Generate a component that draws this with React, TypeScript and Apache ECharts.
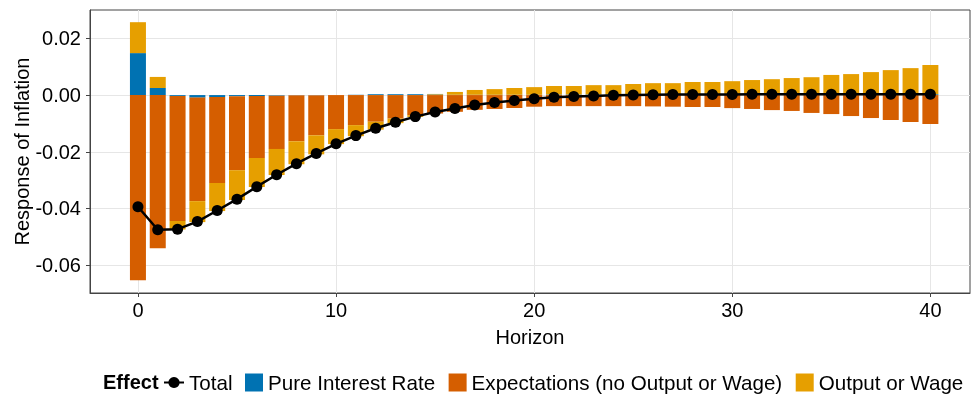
import React, { useEffect, useRef } from 'react';
import * as echarts from 'echarts';

const horizons = [0, 1, 2, 3, 4, 5, 6, 7, 8, 9, 10, 11, 12, 13, 14, 15, 16, 17, 18, 19, 20,
  21, 22, 23, 24, 25, 26, 27, 28, 29, 30, 31, 32, 33, 34, 35, 36, 37, 38, 39, 40];

const pureInterestRate = [0.0148, 0.0025, -0.0003, -0.0009, -0.0007, -0.0004, -0.0003, -0.0002, -0.0001, -0.0001,
  0.0000, 0.0001, 0.0003, 0.0003, 0.0003, 0.0002, 0.0001, 0.0001, 0.0001, 0.0001,
  0.0001, 0.0002, 0.0002, 0.0002, 0.0002, 0.0002, 0.0002, 0.0002, 0.0002, 0.0002,
  0.0002, 0.0002, 0.0002, 0.0002, 0.0002, 0.0002, 0.0002, 0.0002, 0.0003, 0.0003, 0.0003];

const expectations = [-0.0653, -0.0540, -0.0441, -0.0365, -0.0303, -0.0261, -0.0219, -0.0188, -0.0162, -0.0141,
  -0.0120, -0.0106, -0.0094, -0.0083, -0.0071, -0.0065, -0.0059, -0.0052, -0.0049, -0.0046,
  -0.0041, -0.0039, -0.0039, -0.0039, -0.0039, -0.0039, -0.0040, -0.0041, -0.0042, -0.0042,
  -0.0046, -0.0049, -0.0053, -0.0056, -0.0063, -0.0067, -0.0074, -0.0081, -0.0088, -0.0095, -0.0102];

const outputOrWage = [0.0109, 0.0039, -0.0030, -0.0074, -0.0099, -0.0105, -0.0102, -0.0092, -0.0081, -0.0067,
  -0.0053, -0.0039, -0.0028, -0.0016, -0.0006, 0.0002, 0.0010, 0.0017, 0.0020, 0.0024,
  0.0027, 0.0030, 0.0030, 0.0033, 0.0033, 0.0037, 0.0040, 0.0040, 0.0044, 0.0044,
  0.0047, 0.0051, 0.0054, 0.0058, 0.0061, 0.0069, 0.0072, 0.0079, 0.0085, 0.0092, 0.0103];

const total = [-0.0394, -0.0475, -0.0473, -0.0446, -0.0407, -0.0367, -0.0323, -0.0281, -0.0242, -0.0206,
  -0.0172, -0.0143, -0.0117, -0.0096, -0.0076, -0.0060, -0.0047, -0.0035, -0.0026, -0.0019,
  -0.0013, -0.0008, -0.0005, -0.0003, -0.0001, 0.0000, 0.0001, 0.0002, 0.0002, 0.0002,
  0.0002, 0.0003, 0.0003, 0.0003, 0.0003, 0.0003, 0.0003, 0.0003, 0.0003, 0.0003, 0.0003];

const xTicks = [0, 10, 20, 30, 40];
const yTicks = [-0.06, -0.04, -0.02, 0, 0.02];

const FONT = 'Liberation Sans';

export default function App() {
  const ref = useRef<HTMLDivElement>(null);
  useEffect(() => {
    const chart = echarts.init(ref.current!, null, { renderer: 'svg' });
    // bars: value first so that ECharts stacks the y dimension
    const barData = (arr: number[]) => horizons.map((h, i) => [arr[i], h]);
    const lineData = (arr: number[]) => horizons.map((h, i) => [h, arr[i]]);
    const txt = { fontSize: 20, color: '#000', fontFamily: FONT };
    const legTxt = { fontSize: 20.6, color: '#000', fontFamily: FONT };
    const barCommon = {
      type: 'bar', stack: 'eff', barWidth: 16, encode: { x: 1, y: 0 },
    };
    chart.setOption({
      animation: false,
      textStyle: { fontFamily: FONT },
      grid: {
        left: 90, right: 1, top: 10, bottom: 101, show: true, borderColor: '#444', borderWidth: 1,
        containLabel: false, outerBoundsMode: 'none',
      },
      xAxis: {
        type: 'value', min: -2.42, max: 42,
        name: 'Horizon', nameLocation: 'middle', nameGap: 34, nameTextStyle: txt, nameMoveOverlap: false,
        axisLine: { show: true, onZero: false, lineStyle: { color: '#444' } },
        axisTick: { show: true, length: 4, customValues: xTicks, lineStyle: { color: '#444' } },
        axisLabel: { customValues: xTicks, ...txt, margin: 7 },
        splitLine: { show: true, lineStyle: { color: '#e6e6e6' } },
      },
      yAxis: {
        type: 'value', min: -0.0698, max: 0.030,
        name: 'Response of Inflation', nameLocation: 'middle', nameGap: 58, nameTextStyle: txt, nameMoveOverlap: false,
        axisLine: { show: true, onZero: false, lineStyle: { color: '#444' } },
        axisTick: { show: true, length: 4, customValues: yTicks, lineStyle: { color: '#444' } },
        axisLabel: { customValues: yTicks, ...txt, margin: 9, formatter: (v: number) => v.toFixed(2) },
        splitLine: { show: true, lineStyle: { color: '#e6e6e6' } },
      },
      legend: [
        {
          data: ['Total'], left: 163, top: 372, padding: 0, itemWidth: 20, itemHeight: 14,
          textStyle: legTxt,
        },
        {
          data: ['Pure Interest Rate', 'Expectations (no Output or Wage)', 'Output or Wage'],
          left: 245, top: 372, padding: 0, itemWidth: 18, itemHeight: 18, itemGap: 13.5, icon: 'rect',
          textStyle: legTxt,
        },
      ],
      graphic: [
        {
          type: 'text', left: 103, top: 372,
          style: { text: 'Effect', fontSize: 20, fontWeight: 'bold', fontFamily: FONT, fill: '#000' },
        },
      ],
      series: [
        { ...barCommon, name: 'Pure Interest Rate', itemStyle: { color: '#0072B2' }, data: barData(pureInterestRate) },
        { ...barCommon, name: 'Expectations (no Output or Wage)', itemStyle: { color: '#D55E00' }, data: barData(expectations) },
        { ...barCommon, name: 'Output or Wage', itemStyle: { color: '#E69F00' }, data: barData(outputOrWage) },
        {
          name: 'Total', type: 'line', z: 10, symbol: 'circle', symbolSize: 11, showSymbol: true,
          lineStyle: { color: '#000', width: 2.5 }, itemStyle: { color: '#000' },
          data: lineData(total),
        },
      ],
    });
    return () => chart.dispose();
  }, []);
  return <div ref={ref} style={{ position: 'fixed', left: 0, top: 0, width: 971, height: 394 }} />;
}
